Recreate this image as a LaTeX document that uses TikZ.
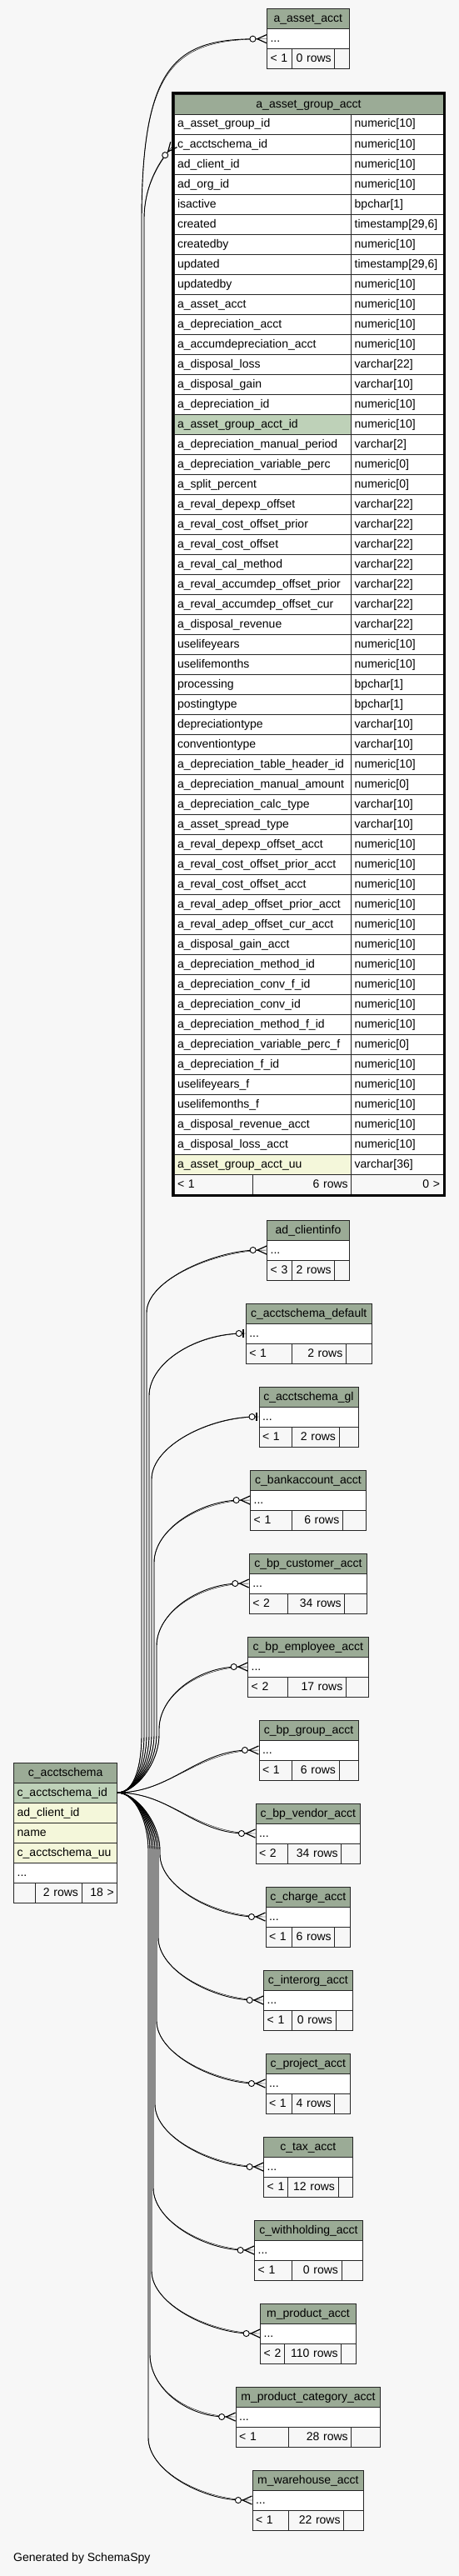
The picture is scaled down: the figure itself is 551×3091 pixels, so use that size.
\documentclass[tikz,border=0pt]{standalone}
\usepackage{fontspec}
\setmainfont{Liberation Sans}
\usepackage{xcolor}
\usepackage{tikz}
\usetikzlibrary{calc, arrows.meta}

\definecolor{bgfill}{HTML}{F7F7F7}
\definecolor{hdrfill}{HTML}{9BAB96}
\definecolor{pkfill}{HTML}{BED1B8}
\definecolor{idxfill}{HTML}{F4F7DA}
\definecolor{gridline}{HTML}{262626}

\hyphenpenalty=10000

\tikzstyle{cell}     = [draw=gridline,line width=0.9pt,anchor=north west,inner xsep=4pt,inner ysep=0pt,
                        outer sep=0pt,minimum height=24pt,text height=10.5pt,text depth=2.5pt,align=left,
                        font=\fontsize{14pt}{16pt}\selectfont]
\tikzstyle{hdcell}   = [cell,fill=hdrfill,inner xsep=0pt,align=center]
\tikzstyle{rowcell}  = [cell,fill=white]
\tikzstyle{ftcell}   = [cell,fill=bgfill]
\tikzstyle{fk}       = [draw=black,line width=0.9pt,preaction={draw,arrows=-}]
\tikzstyle{crowodot} = [fk,-{Circle[open,fill=white,length=8pt,width=8pt,line width=0.9pt]
                        Straight Barb[reversed,length=11pt,width=10pt,line width=1.2pt]}]
\tikzstyle{teeodot}  = [fk,-{Circle[open,fill=white,length=8pt,width=8pt,line width=0.9pt]
                        Bar[width=10pt,line width=2.5pt,sep=2pt]}]

% small table: name, left, top, right, split 1, split 2, title, parents, rows
\newcommand\minitable[9]{%
  \pgfmathsetmacro\mtw{#4-#2}%
  \pgfmathsetmacro\mti{#4-#2-8}%
  \pgfmathsetmacro\mta{#5-#2-8}%
  \pgfmathsetmacro\mtb{#6-#5-8}%
  \pgfmathsetmacro\mtc{#4-#6-8}%
  \node[hdcell,minimum width=\mtw pt] (#1-hd) at (#2,#3) {#7};
  \node[rowcell,text width=\mti pt] (#1) at (#1-hd.south west) {...};
  \node[ftcell,text width=\mta pt] (#1-lt) at (#1.south west) {#8};
  \node[ftcell,text width=\mtb pt,align=right] (#1-ct) at (#1-lt.north east) {#9};
  \node[ftcell,text width=\mtc pt] (#1-gt) at (#1-ct.north east) {};
}

% link from c_acctschema: end style, target, channel x, -1 up / 1 down
\newcommand\fklink[4]{%
  \pgfmathsetmacro\fkA{#4*70}%
  \pgfmathsetmacro\fkB{#4*(-35)}%
  \pgfmathsetmacro\fkC{#4*(-75)}%
  \pgfmathsetmacro\fkD{#4*40}%
  \draw[#1] (acs-id.east) .. controls +(22,0) and +(0,\fkB) .. ($(acs-id.east -| #3,0)+(0,\fkA)$)
    -- ($(#2.west -| #3,0)+(0,\fkC)$) .. controls +(0,\fkD) and +(-60,0) .. (#2.west);
}

\begin{document}
\catcode`\_=12
\begin{tikzpicture}[x=1pt,y=-1pt]
  \useasboundingbox (0,0) rectangle (551,3091);
  \fill[bgfill] (0,0) rectangle (551,3091);

  % a_asset_group_acct
  \node[hdcell,minimum width=323pt] (ag-hd) at (209,113) {a_asset_group_acct};
  \foreach \cname/\ctype/\cfill [count=\i] in {
      a_asset_group_id/numeric[10]/white, c_acctschema_id/numeric[10]/white,
      ad_client_id/numeric[10]/white, ad_org_id/numeric[10]/white,
      isactive/bpchar[1]/white, created/{timestamp[29,6]}/white,
      createdby/numeric[10]/white, updated/{timestamp[29,6]}/white,
      updatedby/numeric[10]/white, a_asset_acct/numeric[10]/white,
      a_depreciation_acct/numeric[10]/white, a_accumdepreciation_acct/numeric[10]/white,
      a_disposal_loss/varchar[22]/white, a_disposal_gain/varchar[10]/white,
      a_depreciation_id/numeric[10]/white, a_asset_group_acct_id/numeric[10]/pkfill,
      a_depreciation_manual_period/varchar[2]/white, a_depreciation_variable_perc/numeric[0]/white,
      a_split_percent/numeric[0]/white, a_reval_depexp_offset/varchar[22]/white,
      a_reval_cost_offset_prior/varchar[22]/white, a_reval_cost_offset/varchar[22]/white,
      a_reval_cal_method/varchar[22]/white, a_reval_accumdep_offset_prior/varchar[22]/white,
      a_reval_accumdep_offset_cur/varchar[22]/white, a_disposal_revenue/varchar[22]/white,
      uselifeyears/numeric[10]/white, uselifemonths/numeric[10]/white,
      processing/bpchar[1]/white, postingtype/bpchar[1]/white,
      depreciationtype/varchar[10]/white, conventiontype/varchar[10]/white,
      a_depreciation_table_header_id/numeric[10]/white, a_depreciation_manual_amount/numeric[0]/white,
      a_depreciation_calc_type/varchar[10]/white, a_asset_spread_type/varchar[10]/white,
      a_reval_depexp_offset_acct/numeric[10]/white, a_reval_cost_offset_prior_acct/numeric[10]/white,
      a_reval_cost_offset_acct/numeric[10]/white, a_reval_adep_offset_prior_acct/numeric[10]/white,
      a_reval_adep_offset_cur_acct/numeric[10]/white, a_disposal_gain_acct/numeric[10]/white,
      a_depreciation_method_id/numeric[10]/white, a_depreciation_conv_f_id/numeric[10]/white,
      a_depreciation_conv_id/numeric[10]/white, a_depreciation_method_f_id/numeric[10]/white,
      a_depreciation_variable_perc_f/numeric[0]/white, a_depreciation_f_id/numeric[10]/white,
      uselifeyears_f/numeric[10]/white, uselifemonths_f/numeric[10]/white,
      a_disposal_revenue_acct/numeric[10]/white, a_disposal_loss_acct/numeric[10]/white,
      a_asset_group_acct_uu/varchar[36]/idxfill} {
    \node[rowcell,fill=\cfill,text width=204.7pt] (ag-\i) at (209,{113+24*\i}) {\cname};
    \node[rowcell,text width=102.3pt] (ag-\i-t) at (421.7,{113+24*\i}) {\ctype};
  }
  \node[ftcell,text width=86pt] (ag-lt) at (209,1409) {< 1};
  \node[ftcell,text width=110.7pt,align=right] (ag-ct) at (ag-lt.north east) {6 rows};
  \node[ftcell,text width=102.3pt,align=right] (ag-gt) at (ag-ct.north east) {0 >};
  \draw[line width=3pt] (207.5,111.5) rectangle (533.5,1434.5);

  % c_acctschema
  \node[hdcell,minimum width=124pt] (acs-hd) at (16.7,2115) {c_acctschema};
  \node[rowcell,fill=pkfill,text width=116pt] (acs-id) at (acs-hd.south west) {c_acctschema_id};
  \node[rowcell,fill=idxfill,text width=116pt] (acs-client) at (acs-id.south west) {ad_client_id};
  \node[rowcell,fill=idxfill,text width=116pt] (acs-name) at (acs-client.south west) {name};
  \node[rowcell,fill=idxfill,text width=116pt] (acs-uu) at (acs-name.south west) {c_acctschema_uu};
  \node[rowcell,text width=116pt] (acs-more) at (acs-uu.south west) {...};
  \node[ftcell,text width=17.3pt] (acs-lt) at (acs-more.south west) {};
  \node[ftcell,text width=48pt,align=right] (acs-ct) at (acs-lt.north east) {2 rows};
  \node[ftcell,text width=34.7pt,align=right] (acs-gt) at (acs-ct.north east) {18 >};

  % child tables
  \minitable{aacct}{320.5}{10.7}{419.2}{350}{401.7}{a_asset_acct}{< 1}{0 rows}
  \minitable{clientinfo}{320.7}{1464}{419.3}{350}{401.7}{ad_clientinfo}{< 3}{2 rows}
  \minitable{acsdefault}{295.3}{1564}{446}{350}{415.3}{c_acctschema_default}{< 1}{2 rows}
  \minitable{acsgl}{311}{1664}{430}{350}{407}{c_acctschema_gl}{< 1}{2 rows}
  \minitable{bankacct}{300.7}{1764}{439.3}{350}{411.3}{c_bankaccount_acct}{< 1}{6 rows}
  \minitable{bpcust}{299.3}{1864}{440.7}{345.7}{413.7}{c_bp_customer_acct}{< 2}{34 rows}
  \minitable{bpempl}{297.7}{1964}{442}{345.7}{415.3}{c_bp_employee_acct}{< 2}{17 rows}
  \minitable{bpgroup}{311}{2064}{430}{350}{407}{c_bp_group_acct}{< 1}{6 rows}
  \minitable{bpvendor}{307}{2164}{432.7}{345.7}{409.7}{c_bp_vendor_acct}{< 2}{34 rows}
  \minitable{charge}{319}{2264}{420.7}{350}{401.7}{c_charge_acct}{< 1}{6 rows}
  \minitable{interorg}{316.7}{2364}{423}{350}{403}{c_interorg_acct}{< 1}{0 rows}
  \minitable{project}{319}{2464}{420.7}{350}{401.7}{c_project_acct}{< 1}{4 rows}
  \minitable{tax}{316.7}{2564}{423}{345.7}{406}{c_tax_acct}{< 1}{12 rows}
  \minitable{withholding}{305.7}{2664}{435.3}{350}{410}{c_withholding_acct}{< 1}{0 rows}
  \minitable{mprod}{312.7}{2764}{427.3}{341.6}{409.7}{m_product_acct}{< 2}{110 rows}
  \minitable{mprodcat}{283.2}{2864}{456.8}{346.1}{421.7}{m_product_category_acct}{< 1}{28 rows}
  \minitable{whs}{303}{2964}{436.8}{346}{412.6}{m_warehouse_acct}{< 1}{22 rows}

  % links going up
  \draw[crowodot] (acs-id.east) .. controls +(22,0) and +(0,35) .. ($(acs-id.east -| 170,0)+(0,-70)$)
    -- ($(aacct.west -| 170,0)+(0,220)$) .. controls +(0,-190) and +(-110,0) .. (aacct.west);
  \draw[crowodot] (acs-id.east) .. controls +(22,0) and +(0,35) .. ($(acs-id.east -| 173,0)+(0,-70)$)
    -- ($(ag-2.west -| 173,0)+(0,90)$) .. controls +(0,-40) and +(-18,22) .. (ag-2.west);
  \fklink{crowodot}{clientinfo}{176}{-1}
  \fklink{teeodot}{acsdefault}{179}{-1}
  \fklink{teeodot}{acsgl}{182}{-1}
  \fklink{crowodot}{bankacct}{185}{-1}
  \fklink{crowodot}{bpcust}{188}{-1}
  \fklink{crowodot}{bpempl}{191}{-1}
  \draw[crowodot] (acs-id.east) .. controls +(65,0) and +(-75,0) .. (bpgroup.west);

  % links going down
  \draw[crowodot] (acs-id.east) .. controls +(65,0) and +(-75,0) .. (bpvendor.west);
  \fklink{crowodot}{charge}{192}{1}
  \fklink{crowodot}{interorg}{190}{1}
  \fklink{crowodot}{project}{188}{1}
  \fklink{crowodot}{tax}{186}{1}
  \fklink{crowodot}{withholding}{184}{1}
  \fklink{crowodot}{mprod}{182}{1}
  \fklink{crowodot}{mprodcat}{180}{1}
  \fklink{crowodot}{whs}{178}{1}

  \node[font=\fontsize{14pt}{16pt}\selectfont,anchor=west,inner sep=0pt] (credit) at (16,3070) {Generated by SchemaSpy};
\end{tikzpicture}
\end{document}
